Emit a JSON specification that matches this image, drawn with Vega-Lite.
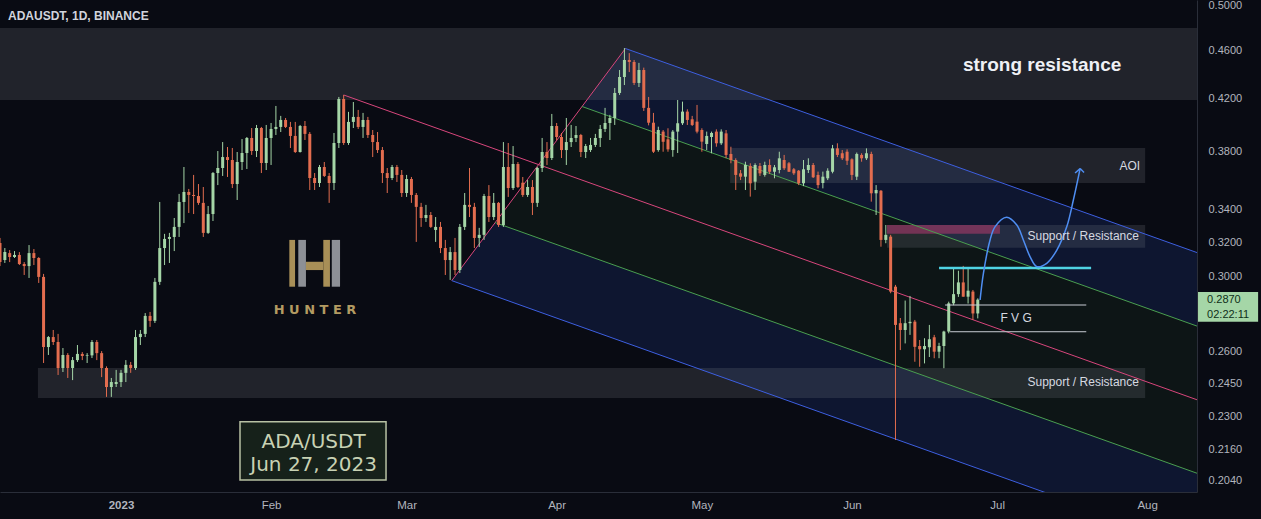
{
"$schema": "https://vega.github.io/schema/vega-lite/v6.json",
"width": 1197, "height": 492,
"autosize": {"type": "none"},
"padding": {"left": 0, "top": 0, "right": 64, "bottom": 27},
"background": "#090b13",
"config": {"view": {"stroke": null}, "font": "Liberation Sans", "scale": {"continuousPadding": 0}},
"datasets": {
"candles": [
{"d":"2022-12-07","o":0.3195,"h":0.3225,"l":0.3058,"c":0.3081},
{"d":"2022-12-08","o":0.3093,"h":0.3164,"l":0.3076,"c":0.3140},
{"d":"2022-12-09","o":0.3134,"h":0.3152,"l":0.3081,"c":0.3111},
{"d":"2022-12-10","o":0.3111,"h":0.3146,"l":0.3105,"c":0.3123},
{"d":"2022-12-11","o":0.3123,"h":0.3140,"l":0.3064,"c":0.3070},
{"d":"2022-12-12","o":0.3070,"h":0.3081,"l":0.3007,"c":0.3058},
{"d":"2022-12-13","o":0.3058,"h":0.3182,"l":0.2990,"c":0.3134},
{"d":"2022-12-14","o":0.3134,"h":0.3158,"l":0.3064,"c":0.3105},
{"d":"2022-12-15","o":0.3105,"h":0.3110,"l":0.2962,"c":0.2996},
{"d":"2022-12-16","o":0.2996,"h":0.3013,"l":0.2546,"c":0.2624},
{"d":"2022-12-17","o":0.2624,"h":0.2679,"l":0.2585,"c":0.2674},
{"d":"2022-12-18","o":0.2674,"h":0.2710,"l":0.2634,"c":0.2649},
{"d":"2022-12-19","o":0.2649,"h":0.2690,"l":0.2489,"c":0.2522},
{"d":"2022-12-20","o":0.2522,"h":0.2619,"l":0.2503,"c":0.2585},
{"d":"2022-12-21","o":0.2585,"h":0.2594,"l":0.2475,"c":0.2522},
{"d":"2022-12-22","o":0.2522,"h":0.2575,"l":0.2465,"c":0.2560},
{"d":"2022-12-23","o":0.2560,"h":0.2634,"l":0.2551,"c":0.2590},
{"d":"2022-12-24","o":0.2590,"h":0.2599,"l":0.2560,"c":0.2580},
{"d":"2022-12-25","o":0.2580,"h":0.2594,"l":0.2546,"c":0.2583},
{"d":"2022-12-26","o":0.2583,"h":0.2659,"l":0.2570,"c":0.2649},
{"d":"2022-12-27","o":0.2649,"h":0.2659,"l":0.2560,"c":0.2594},
{"d":"2022-12-28","o":0.2594,"h":0.2604,"l":0.2479,"c":0.2522},
{"d":"2022-12-29","o":0.2522,"h":0.2530,"l":0.2388,"c":0.2433},
{"d":"2022-12-30","o":0.2433,"h":0.2475,"l":0.2388,"c":0.2456},
{"d":"2022-12-31","o":0.2447,"h":0.2513,"l":0.2433,"c":0.2456},
{"d":"2023-01-01","o":0.2456,"h":0.2513,"l":0.2433,"c":0.2499},
{"d":"2023-01-02","o":0.2499,"h":0.2560,"l":0.2456,"c":0.2537},
{"d":"2023-01-03","o":0.2537,"h":0.2551,"l":0.2499,"c":0.2522},
{"d":"2023-01-04","o":0.2522,"h":0.2710,"l":0.2513,"c":0.2674},
{"d":"2023-01-05","o":0.2674,"h":0.2710,"l":0.2634,"c":0.2690},
{"d":"2023-01-06","o":0.2690,"h":0.2798,"l":0.2674,"c":0.2783},
{"d":"2023-01-07","o":0.2783,"h":0.2804,"l":0.2726,"c":0.2757},
{"d":"2023-01-08","o":0.2757,"h":0.2990,"l":0.2746,"c":0.2968},
{"d":"2023-01-09","o":0.2968,"h":0.3452,"l":0.2951,"c":0.3164},
{"d":"2023-01-10","o":0.3164,"h":0.3250,"l":0.3064,"c":0.3219},
{"d":"2023-01-11","o":0.3219,"h":0.3256,"l":0.3076,"c":0.3231},
{"d":"2023-01-12","o":0.3231,"h":0.3349,"l":0.3146,"c":0.3293},
{"d":"2023-01-13","o":0.3293,"h":0.3505,"l":0.3231,"c":0.3452},
{"d":"2023-01-14","o":0.3452,"h":0.3688,"l":0.3317,"c":0.3518},
{"d":"2023-01-15","o":0.3518,"h":0.3538,"l":0.3381,"c":0.3498},
{"d":"2023-01-16","o":0.3498,"h":0.3633,"l":0.3374,"c":0.3491},
{"d":"2023-01-17","o":0.3491,"h":0.3571,"l":0.3433,"c":0.3446},
{"d":"2023-01-18","o":0.3446,"h":0.3551,"l":0.3231,"c":0.3256},
{"d":"2023-01-19","o":0.3256,"h":0.3426,"l":0.3250,"c":0.3374},
{"d":"2023-01-20","o":0.3374,"h":0.3653,"l":0.3330,"c":0.3646},
{"d":"2023-01-21","o":0.3646,"h":0.3801,"l":0.3564,"c":0.3681},
{"d":"2023-01-22","o":0.3681,"h":0.3866,"l":0.3626,"c":0.3758},
{"d":"2023-01-23","o":0.3758,"h":0.3830,"l":0.3619,"c":0.3737},
{"d":"2023-01-24","o":0.3737,"h":0.3823,"l":0.3544,"c":0.3571},
{"d":"2023-01-25","o":0.3571,"h":0.3794,"l":0.3465,"c":0.3723},
{"d":"2023-01-26","o":0.3723,"h":0.3888,"l":0.3667,"c":0.3787},
{"d":"2023-01-27","o":0.3787,"h":0.3903,"l":0.3674,"c":0.3896},
{"d":"2023-01-28","o":0.3896,"h":0.3970,"l":0.3773,"c":0.3801},
{"d":"2023-01-29","o":0.3801,"h":0.3993,"l":0.3758,"c":0.3970},
{"d":"2023-01-30","o":0.3970,"h":0.3978,"l":0.3646,"c":0.3716},
{"d":"2023-01-31","o":0.3716,"h":0.3993,"l":0.3667,"c":0.3896},
{"d":"2023-02-01","o":0.3896,"h":0.4008,"l":0.3702,"c":0.3963},
{"d":"2023-02-02","o":0.3963,"h":0.4139,"l":0.3918,"c":0.3978},
{"d":"2023-02-03","o":0.3978,"h":0.4062,"l":0.3940,"c":0.4031},
{"d":"2023-02-04","o":0.4031,"h":0.4046,"l":0.3970,"c":0.3978},
{"d":"2023-02-05","o":0.3978,"h":0.4016,"l":0.3823,"c":0.3911},
{"d":"2023-02-06","o":0.3911,"h":0.4016,"l":0.3787,"c":0.3794},
{"d":"2023-02-07","o":0.3794,"h":0.3993,"l":0.3790,"c":0.3985},
{"d":"2023-02-08","o":0.3985,"h":0.4023,"l":0.3881,"c":0.3926},
{"d":"2023-02-09","o":0.3926,"h":0.3940,"l":0.3531,"c":0.3612},
{"d":"2023-02-10","o":0.3612,"h":0.3646,"l":0.3531,"c":0.3578},
{"d":"2023-02-11","o":0.3578,"h":0.3702,"l":0.3551,"c":0.3688},
{"d":"2023-02-12","o":0.3688,"h":0.3723,"l":0.3619,"c":0.3626},
{"d":"2023-02-13","o":0.3626,"h":0.3646,"l":0.3446,"c":0.3578},
{"d":"2023-02-14","o":0.3578,"h":0.3933,"l":0.3531,"c":0.3859},
{"d":"2023-02-15","o":0.3859,"h":0.4210,"l":0.3823,"c":0.4194},
{"d":"2023-02-16","o":0.4194,"h":0.4226,"l":0.3845,"c":0.3859},
{"d":"2023-02-17","o":0.3859,"h":0.4093,"l":0.3845,"c":0.4016},
{"d":"2023-02-18","o":0.4016,"h":0.4170,"l":0.3970,"c":0.4054},
{"d":"2023-02-19","o":0.4054,"h":0.4108,"l":0.3963,"c":0.3978},
{"d":"2023-02-20","o":0.3978,"h":0.4085,"l":0.3896,"c":0.4031},
{"d":"2023-02-21","o":0.4031,"h":0.4054,"l":0.3896,"c":0.3918},
{"d":"2023-02-22","o":0.3918,"h":0.3955,"l":0.3758,"c":0.3866},
{"d":"2023-02-23","o":0.3866,"h":0.3940,"l":0.3787,"c":0.3808},
{"d":"2023-02-24","o":0.3808,"h":0.3830,"l":0.3578,"c":0.3646},
{"d":"2023-02-25","o":0.3646,"h":0.3681,"l":0.3511,"c":0.3612},
{"d":"2023-02-26","o":0.3612,"h":0.3702,"l":0.3598,"c":0.3688},
{"d":"2023-02-27","o":0.3688,"h":0.3702,"l":0.3585,"c":0.3633},
{"d":"2023-02-28","o":0.3633,"h":0.3667,"l":0.3485,"c":0.3511},
{"d":"2023-03-01","o":0.3511,"h":0.3633,"l":0.3485,"c":0.3605},
{"d":"2023-03-02","o":0.3605,"h":0.3619,"l":0.3446,"c":0.3498},
{"d":"2023-03-03","o":0.3498,"h":0.3511,"l":0.3201,"c":0.3420},
{"d":"2023-03-04","o":0.3420,"h":0.3446,"l":0.3293,"c":0.3349},
{"d":"2023-03-05","o":0.3349,"h":0.3433,"l":0.3324,"c":0.3368},
{"d":"2023-03-06","o":0.3368,"h":0.3387,"l":0.3287,"c":0.3293},
{"d":"2023-03-07","o":0.3274,"h":0.3355,"l":0.3201,"c":0.3293},
{"d":"2023-03-08","o":0.3293,"h":0.3324,"l":0.3134,"c":0.3164},
{"d":"2023-03-09","o":0.3164,"h":0.3213,"l":0.3007,"c":0.3093},
{"d":"2023-03-10","o":0.3093,"h":0.3170,"l":0.2979,"c":0.3140},
{"d":"2023-03-11","o":0.3140,"h":0.3225,"l":0.3007,"c":0.3035},
{"d":"2023-03-12","o":0.3035,"h":0.3311,"l":0.3018,"c":0.3293},
{"d":"2023-03-13","o":0.3293,"h":0.3511,"l":0.3274,"c":0.3433},
{"d":"2023-03-14","o":0.3433,"h":0.3681,"l":0.3355,"c":0.3420},
{"d":"2023-03-15","o":0.3420,"h":0.3446,"l":0.3164,"c":0.3225},
{"d":"2023-03-16","o":0.3225,"h":0.3287,"l":0.3170,"c":0.3244},
{"d":"2023-03-17","o":0.3244,"h":0.3505,"l":0.3213,"c":0.3491},
{"d":"2023-03-18","o":0.3491,"h":0.3564,"l":0.3324,"c":0.3355},
{"d":"2023-03-19","o":0.3355,"h":0.3511,"l":0.3336,"c":0.3446},
{"d":"2023-03-20","o":0.3446,"h":0.3452,"l":0.3293,"c":0.3305},
{"d":"2023-03-21","o":0.3305,"h":0.3866,"l":0.3293,"c":0.3688},
{"d":"2023-03-22","o":0.3688,"h":0.3859,"l":0.3485,"c":0.3544},
{"d":"2023-03-23","o":0.3544,"h":0.3837,"l":0.3531,"c":0.3709},
{"d":"2023-03-24","o":0.3709,"h":0.3723,"l":0.3544,"c":0.3551},
{"d":"2023-03-25","o":0.3580,"h":0.3619,"l":0.3485,"c":0.3498},
{"d":"2023-03-26","o":0.3498,"h":0.3598,"l":0.3485,"c":0.3551},
{"d":"2023-03-27","o":0.3551,"h":0.3598,"l":0.3368,"c":0.3446},
{"d":"2023-03-28","o":0.3446,"h":0.3688,"l":0.3420,"c":0.3681},
{"d":"2023-03-29","o":0.3681,"h":0.3896,"l":0.3653,"c":0.3794},
{"d":"2023-03-30","o":0.3794,"h":0.3866,"l":0.3702,"c":0.3751},
{"d":"2023-03-31","o":0.3751,"h":0.4077,"l":0.3737,"c":0.3985},
{"d":"2023-04-01","o":0.3985,"h":0.4008,"l":0.3881,"c":0.3903},
{"d":"2023-04-02","o":0.3903,"h":0.3933,"l":0.3751,"c":0.3808},
{"d":"2023-04-03","o":0.3808,"h":0.4046,"l":0.3702,"c":0.3866},
{"d":"2023-04-04","o":0.3866,"h":0.3993,"l":0.3830,"c":0.3896},
{"d":"2023-04-05","o":0.3896,"h":0.3985,"l":0.3866,"c":0.3918},
{"d":"2023-04-06","o":0.3918,"h":0.3926,"l":0.3758,"c":0.3794},
{"d":"2023-04-07","o":0.3794,"h":0.3852,"l":0.3751,"c":0.3837},
{"d":"2023-04-08","o":0.3808,"h":0.3896,"l":0.3794,"c":0.3845},
{"d":"2023-04-09","o":0.3845,"h":0.3926,"l":0.3830,"c":0.3896},
{"d":"2023-04-10","o":0.3896,"h":0.3993,"l":0.3830,"c":0.3963},
{"d":"2023-04-11","o":0.3963,"h":0.4124,"l":0.3940,"c":0.4008},
{"d":"2023-04-12","o":0.4008,"h":0.4070,"l":0.3881,"c":0.4046},
{"d":"2023-04-13","o":0.4046,"h":0.4282,"l":0.3993,"c":0.4242},
{"d":"2023-04-14","o":0.4242,"h":0.4430,"l":0.4226,"c":0.4372},
{"d":"2023-04-15","o":0.4372,"h":0.4618,"l":0.4306,"c":0.4515},
{"d":"2023-04-16","o":0.4515,"h":0.4574,"l":0.4413,"c":0.4498},
{"d":"2023-04-17","o":0.4498,"h":0.4515,"l":0.4306,"c":0.4323},
{"d":"2023-04-18","o":0.4323,"h":0.4490,"l":0.4290,"c":0.4430},
{"d":"2023-04-19","o":0.4430,"h":0.4450,"l":0.4100,"c":0.4124},
{"d":"2023-04-20","o":0.4124,"h":0.4210,"l":0.3990,"c":0.4010},
{"d":"2023-04-21","o":0.4010,"h":0.4085,"l":0.3787,"c":0.3796},
{"d":"2023-04-22","o":0.3808,"h":0.3980,"l":0.3796,"c":0.3955},
{"d":"2023-04-23","o":0.3943,"h":0.3955,"l":0.3796,"c":0.3868},
{"d":"2023-04-24","o":0.3886,"h":0.3968,"l":0.3796,"c":0.3813},
{"d":"2023-04-25","o":0.3808,"h":0.3955,"l":0.3760,"c":0.3943},
{"d":"2023-04-26","o":0.3943,"h":0.4186,"l":0.3787,"c":0.4006},
{"d":"2023-04-27","o":0.4006,"h":0.4173,"l":0.3993,"c":0.4095},
{"d":"2023-04-28","o":0.4095,"h":0.4113,"l":0.3993,"c":0.4031},
{"d":"2023-04-29","o":0.4036,"h":0.4062,"l":0.3985,"c":0.3993},
{"d":"2023-04-30","o":0.4018,"h":0.4147,"l":0.3930,"c":0.3943},
{"d":"2023-05-01","o":0.3955,"h":0.3968,"l":0.3796,"c":0.3869},
{"d":"2023-05-02","o":0.3852,"h":0.3943,"l":0.3808,"c":0.3911},
{"d":"2023-05-03","o":0.3903,"h":0.3943,"l":0.3785,"c":0.3933},
{"d":"2023-05-04","o":0.3943,"h":0.3960,"l":0.3832,"c":0.3857},
{"d":"2023-05-05","o":0.3857,"h":0.3960,"l":0.3845,"c":0.3943},
{"d":"2023-05-06","o":0.3930,"h":0.3955,"l":0.3750,"c":0.3773},
{"d":"2023-05-07","o":0.3780,"h":0.3832,"l":0.3714,"c":0.3737},
{"d":"2023-05-08","o":0.3737,"h":0.3749,"l":0.3531,"c":0.3633},
{"d":"2023-05-09","o":0.3644,"h":0.3667,"l":0.3598,"c":0.3621},
{"d":"2023-05-10","o":0.3621,"h":0.3725,"l":0.3531,"c":0.3702},
{"d":"2023-05-11","o":0.3695,"h":0.3714,"l":0.3487,"c":0.3576},
{"d":"2023-05-12","o":0.3587,"h":0.3714,"l":0.3531,"c":0.3702},
{"d":"2023-05-13","o":0.3695,"h":0.3716,"l":0.3626,"c":0.3644},
{"d":"2023-05-14","o":0.3633,"h":0.3725,"l":0.3621,"c":0.3702},
{"d":"2023-05-15","o":0.3702,"h":0.3742,"l":0.3639,"c":0.3655},
{"d":"2023-05-16","o":0.3655,"h":0.3702,"l":0.3610,"c":0.3686},
{"d":"2023-05-17","o":0.3667,"h":0.3796,"l":0.3644,"c":0.3749},
{"d":"2023-05-18","o":0.3737,"h":0.3773,"l":0.3667,"c":0.3679},
{"d":"2023-05-19","o":0.3714,"h":0.3723,"l":0.3653,"c":0.3655},
{"d":"2023-05-20","o":0.3672,"h":0.3681,"l":0.3633,"c":0.3644},
{"d":"2023-05-21","o":0.3662,"h":0.3667,"l":0.3564,"c":0.3576},
{"d":"2023-05-22","o":0.3576,"h":0.3737,"l":0.3557,"c":0.3672},
{"d":"2023-05-23","o":0.3667,"h":0.3749,"l":0.3646,"c":0.3702},
{"d":"2023-05-24","o":0.3702,"h":0.3716,"l":0.3612,"c":0.3617},
{"d":"2023-05-25","o":0.3633,"h":0.3656,"l":0.3542,"c":0.3564},
{"d":"2023-05-26","o":0.3578,"h":0.3656,"l":0.3542,"c":0.3621},
{"d":"2023-05-27","o":0.3610,"h":0.3679,"l":0.3598,"c":0.3662},
{"d":"2023-05-28","o":0.3655,"h":0.3845,"l":0.3644,"c":0.3820},
{"d":"2023-05-29","o":0.3820,"h":0.3857,"l":0.3758,"c":0.3773},
{"d":"2023-05-30","o":0.3785,"h":0.3808,"l":0.3737,"c":0.3749},
{"d":"2023-05-31","o":0.3796,"h":0.3813,"l":0.3702,"c":0.3732},
{"d":"2023-06-01","o":0.3742,"h":0.3749,"l":0.3598,"c":0.3633},
{"d":"2023-06-02","o":0.3621,"h":0.3790,"l":0.3598,"c":0.3780},
{"d":"2023-06-03","o":0.3773,"h":0.3785,"l":0.3725,"c":0.3749},
{"d":"2023-06-04","o":0.3749,"h":0.3820,"l":0.3737,"c":0.3785},
{"d":"2023-06-05","o":0.3780,"h":0.3796,"l":0.3454,"c":0.3509},
{"d":"2023-06-06","o":0.3509,"h":0.3564,"l":0.3368,"c":0.3531},
{"d":"2023-06-07","o":0.3526,"h":0.3531,"l":0.3172,"c":0.3213},
{"d":"2023-06-08","o":0.3213,"h":0.3305,"l":0.3193,"c":0.3244},
{"d":"2023-06-09","o":0.3233,"h":0.3244,"l":0.2905,"c":0.2914},
{"d":"2023-06-10","o":0.2941,"h":0.2951,"l":0.2201,"c":0.2736},
{"d":"2023-06-11","o":0.2745,"h":0.2772,"l":0.2609,"c":0.2710},
{"d":"2023-06-12","o":0.2710,"h":0.2865,"l":0.2642,"c":0.2745},
{"d":"2023-06-13","o":0.2745,"h":0.2890,"l":0.2685,"c":0.2752},
{"d":"2023-06-14","o":0.2753,"h":0.2762,"l":0.2552,"c":0.2625},
{"d":"2023-06-15","o":0.2629,"h":0.2659,"l":0.2528,"c":0.2613},
{"d":"2023-06-16","o":0.2613,"h":0.2668,"l":0.2544,"c":0.2629},
{"d":"2023-06-17","o":0.2623,"h":0.2736,"l":0.2575,"c":0.2663},
{"d":"2023-06-18","o":0.2673,"h":0.2685,"l":0.2569,"c":0.2601},
{"d":"2023-06-19","o":0.2601,"h":0.2645,"l":0.2569,"c":0.2629},
{"d":"2023-06-20","o":0.2629,"h":0.2706,"l":0.2521,"c":0.2702},
{"d":"2023-06-21","o":0.2702,"h":0.2859,"l":0.2693,"c":0.2850},
{"d":"2023-06-22","o":0.2850,"h":0.3045,"l":0.2840,"c":0.2900},
{"d":"2023-06-23","o":0.2900,"h":0.3031,"l":0.2885,"c":0.2965},
{"d":"2023-06-24","o":0.2965,"h":0.3059,"l":0.2886,"c":0.2886},
{"d":"2023-06-25","o":0.2886,"h":0.3045,"l":0.2849,"c":0.2919},
{"d":"2023-06-26","o":0.2914,"h":0.2923,"l":0.2762,"c":0.2796},
{"d":"2023-06-27","o":0.2796,"h":0.2877,"l":0.2770,"c":0.2870}
],
"fills": [
{"r":"b1","d":"2023-04-06T05:30:00Z","top":0.4135,"bot":0.4135},
{"r":"b1","d":"2023-04-15T05:00:00Z","top":0.4614,"bot":0.4016},
{"r":"b1","d":"2023-08-11T07:00:00Z","top":0.3137,"bot":0.2730},
{"r":"g1","d":"2023-03-28T06:00:00Z","top":0.3705,"bot":0.3705},
{"r":"g1","d":"2023-04-06T05:30:00Z","top":0.4135,"bot":0.3597},
{"r":"g1","d":"2023-08-11T07:00:00Z","top":0.2730,"bot":0.2375},
{"r":"g2","d":"2023-03-19T07:00:00Z","top":0.3320,"bot":0.3320},
{"r":"g2","d":"2023-03-28T06:00:00Z","top":0.3705,"bot":0.3225},
{"r":"g2","d":"2023-08-11T07:00:00Z","top":0.2375,"bot":0.2067},
{"r":"b2","d":"2023-03-10T08:00:00Z","top":0.2975,"bot":0.2975},
{"r":"b2","d":"2023-03-19T07:00:00Z","top":0.3320,"bot":0.2889},
{"r":"b2","d":"2023-08-11T07:00:00Z","top":0.2067,"bot":0.1799}
],
"fork": [
{"ln":"median","k":"pink","d":"2023-02-16T00:00:00Z","p":0.4226},
{"ln":"median","k":"pink","d":"2023-08-11T07:00:00Z","p":0.2375},
{"ln":"handle","k":"pink","d":"2023-03-10T08:00:00Z","p":0.2975},
{"ln":"handle","k":"pink","d":"2023-04-15T05:00:00Z","p":0.4614},
{"ln":"upper","k":"blue","d":"2023-04-15T05:00:00Z","p":0.4614},
{"ln":"upper","k":"blue","d":"2023-08-11T07:00:00Z","p":0.3137},
{"ln":"lower","k":"blue","d":"2023-03-10T08:00:00Z","p":0.2975},
{"ln":"lower","k":"blue","d":"2023-08-11T07:00:00Z","p":0.1799},
{"ln":"half1","k":"green","d":"2023-04-06T05:30:00Z","p":0.4135},
{"ln":"half1","k":"green","d":"2023-08-11T07:00:00Z","p":0.2730},
{"ln":"half2","k":"green","d":"2023-03-19T07:00:00Z","p":0.3320},
{"ln":"half2","k":"green","d":"2023-08-11T07:00:00Z","p":0.2067}
],
"zones": [
{"z":"gray","d":"2022-11-30","d2":"2023-08-20","p":0.4796,"p2":0.4186},
{"z":"gray","d":"2023-05-06T20:00:00Z","d2":"2023-07-31T14:00:00Z","p":0.3823,"p2":0.3578},
{"z":"gray","d":"2023-06-08T06:00:00Z","d2":"2023-07-31T14:00:00Z","p":0.3305,"p2":0.3166},
{"z":"pink","d":"2023-06-08T06:00:00Z","d2":"2023-07-01T14:00:00Z","p":0.3305,"p2":0.3250},
{"z":"gray","d":"2022-12-14T20:00:00Z","d2":"2023-07-31T14:00:00Z","p":0.2522,"p2":0.2383}
],
"logo": [
{"k":"gold","d":"2023-02-04T18:30:00Z","d2":"2023-02-05T23:00:00Z","p":0.3213,"p2":0.2941},
{"k":"silver","d":"2023-02-06T15:00:00Z","d2":"2023-02-08T05:00:00Z","p":0.3213,"p2":0.2941},
{"k":"gold","d":"2023-02-08T05:00:00Z","d2":"2023-02-11T19:00:00Z","p":0.3083,"p2":0.3035},
{"k":"gold","d":"2023-02-11T19:00:00Z","d2":"2023-02-13T04:00:00Z","p":0.3213,"p2":0.2941},
{"k":"silver","d":"2023-02-13T13:00:00Z","d2":"2023-02-15T06:00:00Z","p":0.3213,"p2":0.2941}
],
"hlines": [
{"n":"cyan","d":"2023-06-19T00:00:00Z","d2":"2023-07-20T10:00:00Z","p":0.3047},
{"n":"fvg","d":"2023-06-20T06:00:00Z","d2":"2023-07-19T10:00:00Z","p":0.2841},
{"n":"fvg","d":"2023-06-21T07:00:00Z","d2":"2023-07-19T10:00:00Z","p":0.2701}
],
"curve": [
{"d":"2023-06-27T11:30:00Z","p":0.2868},
{"d":"2023-06-28T04:00:00Z","p":0.3016},
{"d":"2023-06-29T13:00:00Z","p":0.3213},
{"d":"2023-06-30T14:00:00Z","p":0.3295},
{"d":"2023-07-02T23:00:00Z","p":0.3354},
{"d":"2023-07-05T01:30:00Z","p":0.3305},
{"d":"2023-07-06T10:00:00Z","p":0.3213},
{"d":"2023-07-07T19:30:00Z","p":0.3112},
{"d":"2023-07-09T04:30:00Z","p":0.3055},
{"d":"2023-07-11T06:00:00Z","p":0.3074},
{"d":"2023-07-13T08:00:00Z","p":0.3152},
{"d":"2023-07-15T09:30:00Z","p":0.3295},
{"d":"2023-07-16T18:00:00Z","p":0.3465},
{"d":"2023-07-18T03:30:00Z","p":0.3677}
],
"arrowhead": [
{"d":"2023-07-18T03:30:00Z","p":0.3677,"d2":"2023-07-17T02:30:00Z","p2":0.3646},
{"d":"2023-07-18T03:30:00Z","p":0.3677,"d2":"2023-07-18T23:00:00Z","p2":0.3650}
]
},
"layer": [
{
"data": {"name": "fills"},
"mark": {"type": "area", "clip": true},
"encoding": {
"x": {"field": "d", "type": "temporal", "title": null,
 "scale": {"type": "utc", "domain": [{"year": 2022, "month": 12, "date": 7, "utc": true}, {"year": 2023, "month": 8, "date": 11, "hours": 7, "utc": true}], "nice": false, "padding": 0},
 "axis": {"orient": "bottom", "title": null,
  "values": [{"year": 2023, "month": 1, "date": 1, "utc": true}, {"year": 2023, "month": 2, "date": 1, "utc": true}, {"year": 2023, "month": 3, "date": 1, "utc": true}, {"year": 2023, "month": 4, "date": 1, "utc": true}, {"year": 2023, "month": 5, "date": 1, "utc": true}, {"year": 2023, "month": 6, "date": 1, "utc": true}, {"year": 2023, "month": 7, "date": 1, "utc": true}, {"year": 2023, "month": 8, "date": 1, "utc": true}],
  "labelExpr": "utcmonth(datum.value) == 0 ? utcFormat(datum.value, '%Y') : utcFormat(datum.value, '%b')",
  "labelFontWeight": {"condition": {"test": "utcmonth(datum.value) == 0", "value": "bold"}, "value": "normal"},
  "ticks": false, "tickSize": 0, "labelPadding": 7, "labelColor": "#b2b5be", "labelFontSize": 11.5, "labelFont": "Liberation Sans",
  "domainColor": "#2a2e39", "grid": false, "labelOverlap": false, "labelFlush": false}},
"y": {"field": "top", "type": "quantitative", "title": null, "stack": null,
 "scale": {"type": "log", "domain": [0.1995, 0.5057], "nice": false, "zero": false, "padding": 0},
 "axis": {"orient": "right", "title": null,
  "values": [0.5, 0.46, 0.42, 0.38, 0.34, 0.32, 0.30, 0.26, 0.245, 0.23, 0.216, 0.204],
  "format": ".4f", "ticks": false, "tickSize": 0, "labelPadding": 11, "labelColor": "#b2b5be", "labelFontSize": 11, "labelFont": "Liberation Sans",
  "domainColor": "#2a2e39", "grid": false, "labelOverlap": false, "labelBound": false, "labelFlush": false}},
"y2": {"field": "bot"},
"detail": {"field": "r", "type": "nominal"},
"color": {"condition": {"test": "datum.r == 'b1' || datum.r == 'b2'", "value": "#2f55d4"}, "value": "#3d8b44"},
"opacity": {"condition": {"test": "datum.r == 'b1' || datum.r == 'b2'", "value": 0.15}, "value": 0.08}
}
},
{
"data": {"name": "zones"},
"mark": {"type": "rect", "clip": true},
"encoding": {
"x": {"field": "d", "type": "temporal", "title": null},
"x2": {"field": "d2"},
"y": {"field": "p", "type": "quantitative", "title": null},
"y2": {"field": "p2"},
"color": {"condition": {"test": "datum.z == 'pink'", "value": "#8e3762"}, "value": "#787b86"},
"opacity": {"condition": {"test": "datum.z == 'pink'", "value": 0.75}, "value": 0.22}
}
},
{
"data": {"name": "fork"},
"mark": {"type": "line", "clip": true, "strokeWidth": 1},
"encoding": {
"x": {"field": "d", "type": "temporal", "title": null},
"y": {"field": "p", "type": "quantitative", "title": null},
"detail": {"field": "ln", "type": "nominal"},
"color": {"condition": [{"test": "datum.k == 'pink'", "value": "#d8467c"}, {"test": "datum.k == 'blue'", "value": "#3d5fe0"}], "value": "#4a9f50"}
}
},
{
"data": {"name": "logo"},
"mark": {"type": "rect", "clip": true},
"encoding": {
"x": {"field": "d", "type": "temporal", "title": null},
"x2": {"field": "d2"},
"y": {"field": "p", "type": "quantitative", "title": null},
"y2": {"field": "p2"},
"color": {"condition": {"test": "datum.k == 'gold'", "value": "#a88f57"}, "value": "#8d9096"}
}
},
{
"data": {"values": [{"t": "H U N T E R", "d": "2023-02-10T02:00:00Z", "p": 0.2814}]},
"mark": {"type": "text", "font": "DejaVu Sans", "fontSize": 13, "fontWeight": "bold", "color": "#b39b62", "align": "center", "baseline": "middle"},
"encoding": {
"x": {"field": "d", "type": "temporal", "title": null},
"y": {"field": "p", "type": "quantitative", "title": null},
"text": {"field": "t"}
}
},
{
"data": {"name": "candles"},
"mark": {"type": "rule", "clip": true, "strokeWidth": 1},
"encoding": {
"x": {"field": "d", "type": "temporal", "title": null},
"y": {"field": "l", "type": "quantitative", "title": null},
"y2": {"field": "h"},
"color": {"condition": {"test": "datum.c >= datum.o", "value": "#a5d6a7"}, "value": "#e36d4f"}
}
},
{
"data": {"name": "candles"},
"mark": {"type": "bar", "clip": true, "size": 3},
"encoding": {
"x": {"field": "d", "type": "temporal", "title": null},
"y": {"field": "o", "type": "quantitative", "title": null},
"y2": {"field": "c"},
"color": {"condition": {"test": "datum.c >= datum.o", "value": "#a5d6a7"}, "value": "#e36d4f"}
}
},
{
"data": {"name": "hlines"},
"mark": {"type": "rule", "clip": true},
"encoding": {
"x": {"field": "d", "type": "temporal", "title": null},
"x2": {"field": "d2"},
"y": {"field": "p", "type": "quantitative", "title": null},
"color": {"condition": {"test": "datum.n == 'cyan'", "value": "#4fd3e3"}, "value": "#c9ccd4"},
"strokeWidth": {"condition": {"test": "datum.n == 'cyan'", "value": 2.5}, "value": 1}
}
},
{
"data": {"name": "curve"},
"mark": {"type": "line", "clip": true, "interpolate": "catmull-rom", "strokeWidth": 1.5, "color": "#4f8ef2"},
"encoding": {
"x": {"field": "d", "type": "temporal", "title": null},
"y": {"field": "p", "type": "quantitative", "title": null}
}
},
{
"data": {"name": "arrowhead"},
"mark": {"type": "rule", "clip": true, "strokeWidth": 1.5, "color": "#4f8ef2"},
"encoding": {
"x": {"field": "d", "type": "temporal", "title": null},
"x2": {"field": "d2"},
"y": {"field": "p", "type": "quantitative", "title": null},
"y2": {"field": "p2"}
}
},
{
"data": {"values": [{"t": "ADAUSDT, 1D, BINANCE", "d": "2022-12-08T15:40:00Z", "p": 0.4906}]},
"mark": {"type": "text", "font": "Liberation Sans", "fontSize": 12, "fontWeight": "bold", "color": "#d1d4dc", "align": "left", "baseline": "middle"},
"encoding": {
"x": {"field": "d", "type": "temporal", "title": null},
"y": {"field": "p", "type": "quantitative", "title": null},
"text": {"field": "t"}
}
},
{
"data": {"values": [{"t": "strong resistance", "d": "2023-07-10T07:00:00Z", "p": 0.4473}]},
"mark": {"type": "text", "font": "Liberation Sans", "fontSize": 19, "fontWeight": "bold", "color": "#eef0f5", "align": "center", "baseline": "middle"},
"encoding": {
"x": {"field": "d", "type": "temporal", "title": null},
"y": {"field": "p", "type": "quantitative", "title": null},
"text": {"field": "t"}
}
},
{
"data": {"values": [
{"t": "AOI", "d": "2023-07-30T13:00:00Z", "p": 0.3695},
{"t": "Support / Resistance", "d": "2023-07-30T07:00:00Z", "p": 0.3238},
{"t": "Support / Resistance", "d": "2023-07-30T07:00:00Z", "p": 0.2456}
]},
"mark": {"type": "text", "font": "Liberation Sans", "fontSize": 12, "color": "#d6d9e0", "align": "right", "baseline": "middle"},
"encoding": {
"x": {"field": "d", "type": "temporal", "title": null},
"y": {"field": "p", "type": "quantitative", "title": null},
"text": {"field": "t"}
}
},
{
"data": {"values": [{"t": "F V G", "d": "2023-07-04T22:00:00Z", "p": 0.2772}]},
"mark": {"type": "text", "font": "Liberation Sans", "fontSize": 12, "color": "#d6d9e0", "align": "center", "baseline": "middle"},
"encoding": {
"x": {"field": "d", "type": "temporal", "title": null},
"y": {"field": "p", "type": "quantitative", "title": null},
"text": {"field": "t"}
}
},
{
"data": {"values": [{"d": "2023-01-25T14:00:00Z", "d2": "2023-02-24T18:00:00Z", "p": 0.2278, "p2": 0.2041}]},
"mark": {"type": "rect", "fill": "#16211a", "stroke": "#b7c1a3", "strokeWidth": 1.5},
"encoding": {
"x": {"field": "d", "type": "temporal", "title": null},
"x2": {"field": "d2"},
"y": {"field": "p", "type": "quantitative", "title": null},
"y2": {"field": "p2"}
}
},
{
"data": {"values": [
{"t": "ADA/USDT", "d": "2023-02-09T19:00:00Z", "p": 0.2194},
{"t": "Jun 27, 2023", "d": "2023-02-09T19:00:00Z", "p": 0.2100}
]},
"mark": {"type": "text", "font": "DejaVu Sans", "fontSize": 20, "color": "#c8d2b4", "align": "center", "baseline": "middle"},
"encoding": {
"x": {"field": "d", "type": "temporal", "title": null},
"y": {"field": "p", "type": "quantitative", "title": null},
"text": {"field": "t"}
}
},
{
"data": {"values": [{"d": "2023-08-11T12:00:00Z", "d2": "2023-08-23T22:00:00Z", "p": 0.2912, "p2": 0.2752}]},
"mark": {"type": "rect", "fill": "#a5d6a7", "clip": false},
"encoding": {
"x": {"field": "d", "type": "temporal", "title": null},
"x2": {"field": "d2"},
"y": {"field": "p", "type": "quantitative", "title": null},
"y2": {"field": "p2"}
}
},
{
"data": {"values": [
{"t": "0.2870", "d": "2023-08-13T09:00:00Z", "p": 0.2868},
{"t": "02:22:11", "d": "2023-08-13T09:00:00Z", "p": 0.2787}
]},
"mark": {"type": "text", "font": "Liberation Sans", "fontSize": 11, "color": "#0e2f18", "align": "left", "baseline": "middle", "clip": false},
"encoding": {
"x": {"field": "d", "type": "temporal", "title": null},
"y": {"field": "p", "type": "quantitative", "title": null},
"text": {"field": "t"}
}
}
]
}
